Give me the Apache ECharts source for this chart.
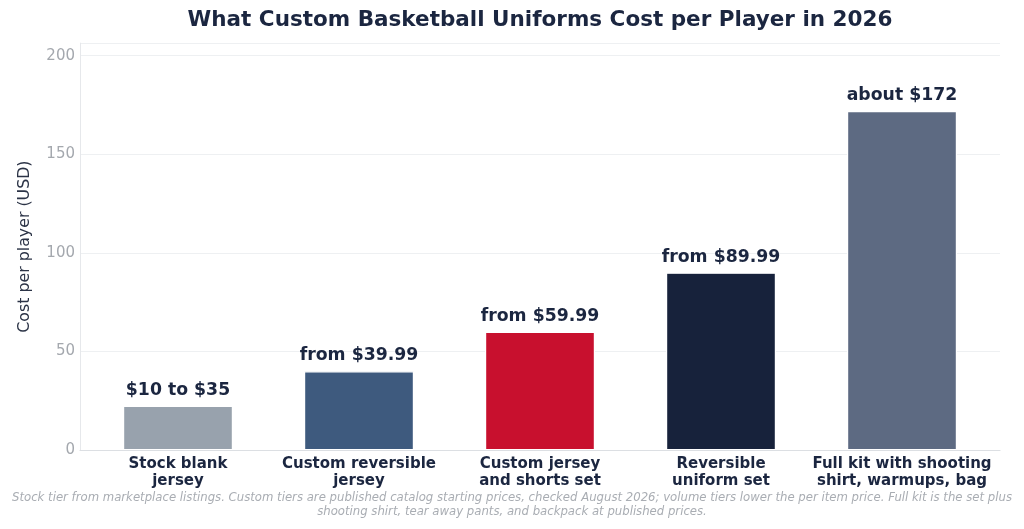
<!DOCTYPE html>
<html>
<head>
<meta charset="utf-8">
<script src="https://cdn.jsdelivr.net/npm/echarts@6/dist/echarts.min.js"></script>
<style>
html,body{margin:0;padding:0;background:#fff;}
#chart{width:1024px;height:529px;}
</style>
</head>
<body>
<div id="chart"></div>
<script>
const categories = [
  "Stock blank\njersey",
  "Custom reversible\njersey",
  "Custom jersey\nand shorts set",
  "Reversible\nuniform set",
  "Full kit with shooting\nshirt, warmups, bag"
];
const costValues = [22.5, 39.99, 59.99, 89.99, 172];
const valueLabels = ["$10 to $35", "from $39.99", "from $59.99", "from $89.99", "about $172"];
const barColors = ["#98a2ad", "#3e5a7e", "#c8102e", "#17223b", "#5d6a82"];
const yTicks = [0, 50, 100, 150, 200];
const titleText = "What Custom Basketball Uniforms Cost per Player in 2026";
const yAxisTitle = "Cost per player (USD)";
const footnoteLines = [
  "Stock tier from marketplace listings. Custom tiers are published catalog starting prices, checked August 2026; volume tiers lower the per item price. Full kit is the set plus",
  "shooting shirt, tear away pants, and backpack at published prices."
];

const Y_MAX = 206.4;
const font = "DejaVu Sans";
const chart = echarts.init(document.getElementById('chart'), null, {renderer: 'canvas'});

chart.setOption({
  backgroundColor: '#ffffff',
  animation: false,
  textStyle: {fontFamily: font},
  graphic: [
    {
      type: 'text', x: 540, y: 20,
      style: {text: titleText, fill: '#1b2640', fontFamily: font, fontWeight: 'bold', fontSize: 21.5, textAlign: 'center', textVerticalAlign: 'middle'}
    },
    {
      type: 'text', x: 512, y: 505,
      style: {text: footnoteLines.join('\n'), fill: '#a9adb3', fontFamily: font, fontStyle: 'italic', fontSize: 11.7, textAlign: 'center', textVerticalAlign: 'middle', lineHeight: 13.5}
    }
  ],
  grid: [
    {left: 80, right: 24, top: 43.1, bottom: 78.9, containLabel: false},
    {left: 87.5, right: 31.5, top: 43.1, bottom: 78.9, containLabel: false}
  ],
  xAxis: [
    {
      type: 'category', gridIndex: 0, data: categories,
      axisLine: {show: true, lineStyle: {color: '#dcdfe3', width: 1.2}},
      axisTick: {show: false}, axisLabel: {show: false}, splitLine: {show: false}
    },
    {
      type: 'category', gridIndex: 1, data: categories,
      axisLine: {show: false}, axisTick: {show: false},
      axisLabel: {show: true, interval: 0, margin: 6, color: '#1b2640', fontFamily: font, fontWeight: 'bold', fontSize: 15, lineHeight: 16.5}
    }
  ],
  yAxis: [
    {
      type: 'value', gridIndex: 0, min: 0, max: Y_MAX, interval: 50,
      name: yAxisTitle, nameLocation: 'middle', nameGap: 47,
      nameTextStyle: {color: '#2b3346', fontFamily: font, fontSize: 15.8},
      axisLine: {show: true, lineStyle: {color: '#e6e8eb', width: 1}},
      axisTick: {show: false},
      axisLabel: {color: '#a4a8ae', fontFamily: font, fontSize: 15, margin: 5, showMaxLabel: false,
        formatter: v => yTicks.includes(v) ? String(v) : ''},
      splitLine: {show: true, lineStyle: {color: '#eef0f2', width: 1}}
    },
    {
      type: 'value', gridIndex: 1, min: 0, max: Y_MAX, interval: 50,
      axisLine: {show: false}, axisTick: {show: false}, axisLabel: {show: false}, splitLine: {show: false}
    }
  ],
  series: [{
    type: 'bar', xAxisIndex: 1, yAxisIndex: 1,
    barWidth: 110,
    data: costValues.map((v, i) => ({
      value: v,
      itemStyle: {color: barColors[i], borderColor: '#ffffff', borderWidth: 1.2},
      label: {formatter: valueLabels[i]}
    })),
    label: {show: true, position: 'top', distance: 7, color: '#1b2640', fontFamily: font, fontWeight: 'bold', fontSize: 17.3}
  }]
});
</script>
</body>
</html>
